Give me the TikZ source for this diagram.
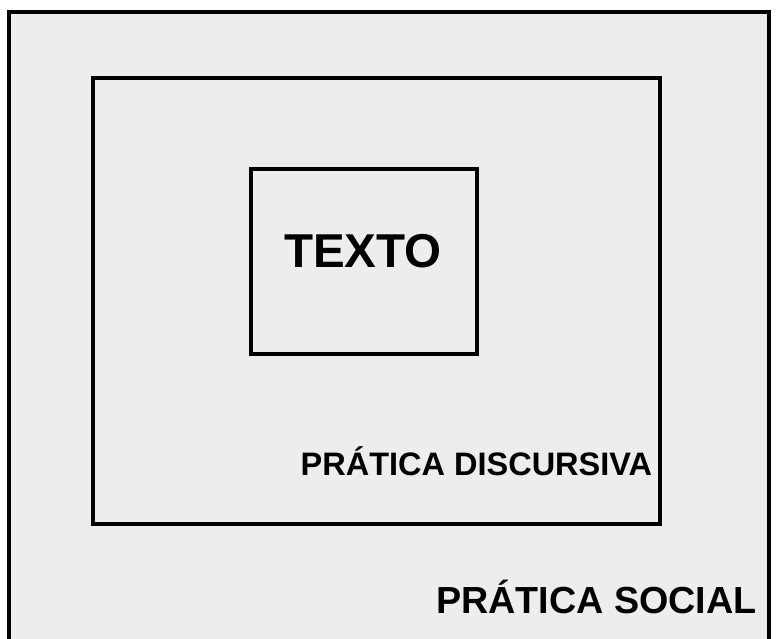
\documentclass[tikz,border=0pt]{standalone}
\usepackage{fontspec}
\setmainfont{Liberation Sans}
\definecolor{panel}{HTML}{EDEDED}
\begin{document}
\begin{tikzpicture}[x=1pt,y=1pt,
  frame/.style={draw=black, line width=4pt, inner sep=0pt, outer sep=0pt},
  lbl/.style={inner sep=0pt, font=\bfseries}]
\useasboundingbox (0,0) rectangle (776,639);
\fill[white] (0,0) rectangle (776,639);
\clip (0,0) rectangle (776,639);
\node[frame, fill=panel, minimum width=760pt, minimum height=647pt] (social) at (389,303.5) {};
\node[frame, minimum width=567pt, minimum height=446pt] (discursiva) at (376.5,338) {};
\node[frame, minimum width=226pt, minimum height=185pt] (texto) at (364,377.5) {};
\node[lbl, anchor=base, font=\fontsize{47.5}{50}\selectfont\bfseries] (textolbl) at (363,371) {TEXTO};
\node[lbl, anchor=base west, font=\fontsize{32.5}{34}\selectfont\bfseries] (disclbl) at (300.5,163) {PRÁTICA DISCURSIVA};
\node[lbl, anchor=base west, font=\fontsize{37.7}{39}\selectfont\bfseries] (soclbl) at (436,25) {PRÁTICA SOCIAL};
\end{tikzpicture}
\end{document}
